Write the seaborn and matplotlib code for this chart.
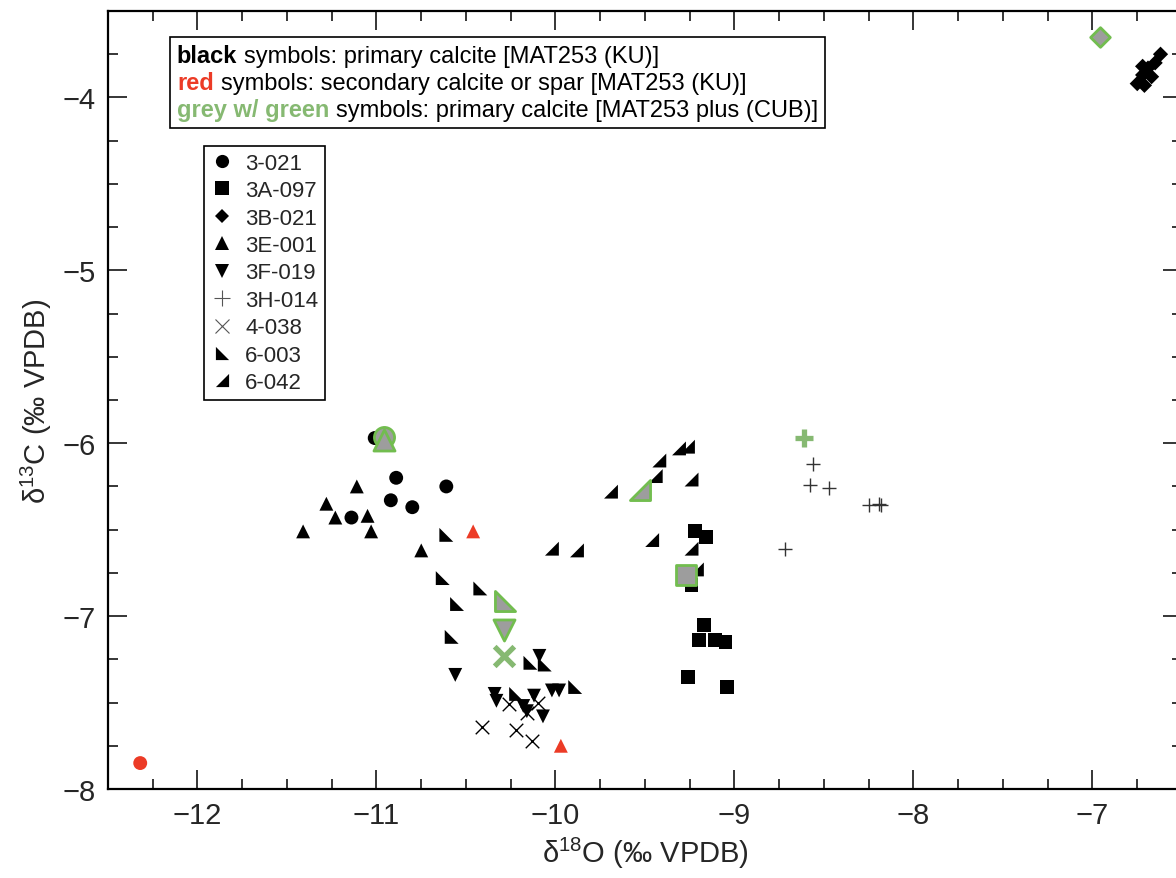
import matplotlib
matplotlib.use("Agg")
import matplotlib.pyplot as plt
import seaborn as sns
from matplotlib.path import Path
from matplotlib.lines import Line2D
from matplotlib.offsetbox import TextArea, HPacker, VPacker, AnchoredOffsetbox
from matplotlib.ticker import MultipleLocator

# ---- data: (d18O, d13C) ----
samples = ["3-021", "3A-097", "3B-021", "3E-001", "3F-019",
           "3H-014", "4-038", "6-003", "6-042"]

# black: primary calcite, MAT253 (KU)
black_3_021 = ([-11.01, -10.89, -10.92, -10.80, -11.14, -10.61],
               [-5.97, -6.20, -6.33, -6.37, -6.43, -6.25])
black_3A_097 = ([-9.22, -9.16, -9.24, -9.17, -9.20, -9.11, -9.05, -9.26, -9.04],
                [-6.51, -6.54, -6.82, -7.05, -7.14, -7.14, -7.15, -7.35, -7.41])
black_3B_021 = ([-6.62, -6.65, -6.69, -6.72, -6.75, -6.71, -6.67, -6.72],
                [-3.75, -3.80, -3.83, -3.87, -3.92, -3.93, -3.88, -3.82])
black_3E_001 = ([-11.11, -11.28, -11.23, -11.05, -11.03, -11.41, -10.75],
                [-6.25, -6.35, -6.43, -6.42, -6.51, -6.51, -6.62])
black_3F_019 = ([-10.56, -10.34, -10.33, -10.12, -10.18, -10.16, -10.07, -10.02, -9.98, -10.09],
                [-7.34, -7.45, -7.49, -7.46, -7.52, -7.55, -7.58, -7.43, -7.43, -7.23])
black_3H_014 = ([-8.56, -8.58, -8.47, -8.25, -8.19, -8.18, -8.72],
                [-6.12, -6.24, -6.26, -6.36, -6.35, -6.36, -6.61])
black_4_038 = ([-10.26, -10.10, -10.16, -10.41, -10.22, -10.13],
               [-7.51, -7.50, -7.56, -7.64, -7.66, -7.72])
black_6_003 = ([-10.61, -10.63, -10.42, -10.55, -10.58, -10.14, -10.06, -10.22, -9.89],
               [-6.53, -6.78, -6.84, -6.93, -7.12, -7.27, -7.28, -7.45, -7.41])
black_6_042 = ([-9.31, -9.26, -9.42, -9.44, -9.69, -9.24, -9.46, -9.24, -9.21, -9.88, -10.02],
               [-6.03, -6.02, -6.10, -6.19, -6.28, -6.21, -6.56, -6.61, -6.73, -6.62, -6.61])

# red: secondary calcite or spar, MAT253 (KU)
red_3_021 = ([-12.32], [-7.85])
red_3E_001 = ([-10.46, -9.97], [-6.51, -7.75])

# grey w/ green: primary calcite, MAT253 plus (CUB)
green_3_021 = ([-10.96], [-5.965])
green_3A_097 = ([-9.27], [-6.76])
green_3B_021 = ([-6.96], [-3.65])
green_3E_001 = ([-10.96], [-5.98])
green_3F_019 = ([-10.29], [-7.08])
green_3H_014 = ([-8.61], [-5.97])
green_4_038 = ([-10.29], [-7.23])
green_6_003 = ([-10.28], [-6.91])
green_6_042 = ([-9.53], [-6.27])

RED = "#ec3b26"
GREEN = "#72bd4f"
GREEN_TXT = "#86b972"
GREY = "#9d9d9d"

tri_bl = Path([(-1, -1), (-1, 1), (1, -1), (-1, -1)],
              [Path.MOVETO, Path.LINETO, Path.LINETO, Path.CLOSEPOLY])
tri_br = Path([(1, -1), (1, 1), (-1, -1), (1, -1)],
              [Path.MOVETO, Path.LINETO, Path.LINETO, Path.CLOSEPOLY])

markers = {"3-021": "o", "3A-097": "s", "3B-021": "D", "3E-001": "^",
           "3F-019": "v", "3H-014": "+", "4-038": "x",
           "6-003": tri_bl, "6-042": tri_br}
size_small = {"3-021": 100, "3A-097": 100, "3B-021": 60, "3E-001": 100,
              "3F-019": 100, "3H-014": 115, "4-038": 95, "6-003": 100, "6-042": 100}
size_big = {"3-021": 210, "3A-097": 200, "3B-021": 100, "3E-001": 230,
            "3F-019": 230, "3H-014": 180, "4-038": 200, "6-003": 210, "6-042": 210}

black_pts = dict(zip(samples, [black_3_021, black_3A_097, black_3B_021, black_3E_001,
                               black_3F_019, black_3H_014, black_4_038, black_6_003,
                               black_6_042]))
red_pts = {"3-021": red_3_021, "3E-001": red_3E_001}
green_pts = dict(zip(samples, [green_3_021, green_3A_097, green_3B_021, green_3E_001,
                               green_3F_019, green_3H_014, green_4_038, green_6_003,
                               green_6_042]))

sns.set_style("ticks")
plt.rcParams["font.family"] = ["Liberation Sans", "DejaVu Sans"]
plt.rcParams["mathtext.fontset"] = "custom"
plt.rcParams["mathtext.rm"] = "Liberation Sans"

fig = plt.figure(figsize=(11.76, 8.79), dpi=100)
ax = fig.add_axes([108 / 1176, 1 - 790 / 879, 1074 / 1176, 778 / 879])


def draw(pts, name, kind):
    x, y = pts
    m = markers[name]
    line_art = name in ("3H-014", "4-038")
    if kind == "green":
        if line_art:
            sns.scatterplot(x=x, y=y, ax=ax, marker=m, s=size_big[name],
                            color=GREEN_TXT, linewidth=3.8, zorder=4)
        else:
            sns.scatterplot(x=x, y=y, ax=ax, marker=m, s=size_big[name],
                            facecolor=GREY, edgecolor=GREEN, linewidth=2, zorder=4)
    else:
        c = "black" if kind == "black" else RED
        if line_art:
            c = "#333333" if name == "3H-014" else c
            sns.scatterplot(x=x, y=y, ax=ax, marker=m, s=size_small[name],
                            color=c, linewidth=1.0, zorder=3)
        else:
            sns.scatterplot(x=x, y=y, ax=ax, marker=m, s=size_small[name],
                            color=c, edgecolor="none", linewidth=0, zorder=3)


for name in samples:
    draw(black_pts[name], name, "black")
for name, pts in red_pts.items():
    draw(pts, name, "red")
for name in samples:
    draw(green_pts[name], name, "green")

ax.set_xlim(-12.5, -6.5)
ax.set_ylim(-8, -3.5)
ax.xaxis.set_major_locator(MultipleLocator(1))
ax.xaxis.set_minor_locator(MultipleLocator(0.25))
ax.yaxis.set_major_locator(MultipleLocator(1))
ax.yaxis.set_minor_locator(MultipleLocator(0.25))
ax.tick_params(which="both", direction="in", top=True, right=True,
               width=1.1, color="black", labelsize=21)
ax.tick_params(which="major", length=14, pad=9)
ax.tick_params(which="minor", length=7.5)
for sp in ax.spines.values():
    sp.set_linewidth(1.6)
    sp.set_color("black")

ax.set_xlabel(r"δ$^{\mathregular{18}}$O (‰ VPDB)", fontsize=21, labelpad=4)
ax.set_ylabel(r"δ$^{\mathregular{13}}$C (‰ VPDB)", fontsize=21, labelpad=6)

# colour-coded description box
rows = []
for word, col, rest in [("black", "black", "symbols: primary calcite [MAT253 (KU)]"),
                        ("red", RED, "symbols: secondary calcite or spar [MAT253 (KU)]"),
                        ("grey w/ green", GREEN_TXT,
                         "symbols: primary calcite [MAT253 plus (CUB)]")]:
    rows.append(HPacker(children=[
        TextArea(word, textprops=dict(color=col, weight="bold", size=17)),
        TextArea(rest, textprops=dict(color="black", size=17))],
        sep=5, pad=0, align="baseline"))
box = VPacker(children=rows, sep=3, pad=0, align="left")
anch = AnchoredOffsetbox(loc="upper left", child=box, pad=0.5, borderpad=0,
                         frameon=True, bbox_to_anchor=(170 / 1176, 1 - 38 / 879),
                         bbox_transform=fig.transFigure)
anch.patch.set_edgecolor("black")
anch.patch.set_linewidth(1.2)
anch.patch.set_boxstyle("square", pad=0)
ax.add_artist(anch)

# marker legend
handles = []
for name in samples:
    m = markers[name]
    if name == "3H-014":
        h = Line2D([], [], marker=m, color="#555555", ls="none", ms=12, mew=0.8)
    elif name == "4-038":
        h = Line2D([], [], marker=m, color="#555555", ls="none", ms=10, mew=0.8)
    elif name == "3B-021":
        h = Line2D([], [], marker=m, color="black", ls="none", ms=7, mew=0)
    else:
        h = Line2D([], [], marker=m, color="black", ls="none", ms=9.5, mew=0)
    handles.append(h)
leg = ax.legend(handles, samples, loc="upper left",
                bbox_to_anchor=(204 / 1176, 1 - 147 / 879),
                bbox_transform=fig.transFigure, borderaxespad=0,
                frameon=True, fancybox=False, framealpha=1, edgecolor="black",
                fontsize=16, handlelength=1.0, handletextpad=0.55,
                labelspacing=0.29, borderpad=0.3)
leg.get_frame().set_linewidth(1.2)

fig.savefig("out.png", dpi=100)
